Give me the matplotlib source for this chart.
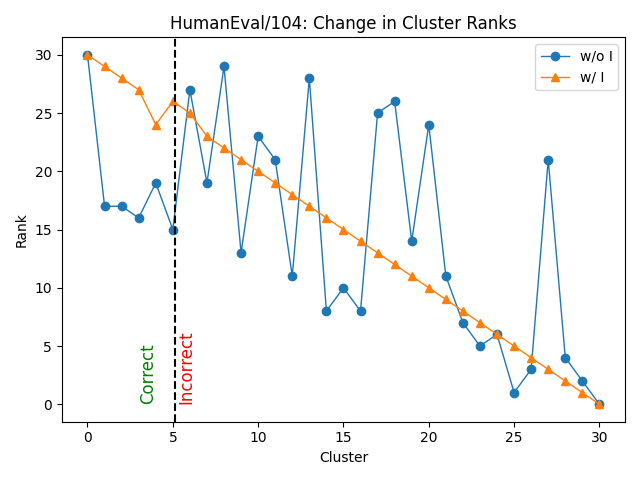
import numpy as np
import matplotlib
matplotlib.use("Agg")
import matplotlib.pyplot as plt

clusters = list(range(31))
rank_wo = [30, 17, 17, 16, 19, 15, 27, 19, 29, 13, 23, 21, 11, 28, 8, 10, 8,
           25, 26, 14, 24, 11, 7, 5, 6, 1, 3, 21, 4, 2, 0]
rank_w = [30, 29, 28, 27, 24, 26, 25, 23, 22, 21, 20, 19, 18, 17, 16, 15, 14,
          13, 12, 11, 10, 9, 8, 7, 6, 5, 4, 3, 2, 1, 0]
split = 5.15

fig, ax = plt.subplots(figsize=(6.4, 4.8))
ax.plot(clusters, rank_wo, marker='o', lw=1, label='w/o I')
ax.plot(clusters, rank_w, marker='^', lw=1, label='w/ I')
ax.axvline(split, color='black', ls='--')
ax.text(split - 1.05, 0, 'Correct', rotation=90, color='green', fontsize=12,
        ha='right', va='bottom')
ax.text(split + 0.1, 0, 'Incorrect', rotation=90, color='red', fontsize=12,
        ha='left', va='bottom')
ax.set_title('HumanEval/104: Change in Cluster Ranks')
ax.set_xlabel('Cluster')
ax.set_ylabel('Rank')
ax.legend()
fig.tight_layout()
fig.savefig('out.png', dpi=100)
